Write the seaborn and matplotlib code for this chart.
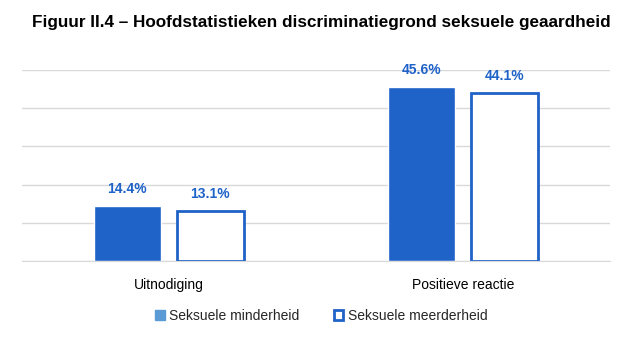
import pandas as pd
import numpy as np
import matplotlib.pyplot as plt
import seaborn as sns
from matplotlib.patches import Patch

categories = ['Uitnodiging', 'Positieve reactie']
groups = ['Seksuele minderheid', 'Seksuele meerderheid']
minderheid = [14.4, 45.6]
meerderheid = [13.1, 44.1]

blue = '#1F62C8'
light = '#5B9BD5'

df = pd.DataFrame({
    'cat': categories * 2,
    'groep': [groups[0]] * 2 + [groups[1]] * 2,
    'pct': minderheid + meerderheid,
})

sns.set_style('white')
plt.rcParams['font.family'] = ['Liberation Sans', 'DejaVu Sans']

fig = plt.figure(figsize=(6.42, 3.51), dpi=100)
ax = fig.add_axes([0.034, 0.2564, 0.916, 0.5442])

sns.barplot(data=df, x='cat', y='pct', hue='groep', order=categories, hue_order=groups,
            palette=[blue, blue], saturation=1, width=0.565, gap=0.2, legend=False, ax=ax)

# second group: outline only
for cont, vals in zip(ax.containers, [minderheid, meerderheid]):
    for i, bar in enumerate(cont):
        if cont is ax.containers[1]:
            bar.set_facecolor('white')
            bar.set_edgecolor(blue)
            bar.set_linewidth(2)
        ax.annotate(f'{vals[i]:.1f}%', (bar.get_x() + bar.get_width() / 2, bar.get_height()),
                    xytext=(0, 7), textcoords='offset points', ha='center', va='bottom',
                    fontsize=10, fontweight='bold', color=blue)

ax.set_ylim(0, 50)
ax.set_xlim(-0.5, 1.5)
ax.set_yticks(np.arange(0, 51, 10))
ax.set_yticklabels([])
ax.tick_params(axis='y', length=0)
ax.tick_params(axis='x', length=0, labelsize=10, pad=12, colors='black')
ax.grid(axis='y', color='#D9D9D9', linewidth=1)
ax.set_axisbelow(True)
for s in ['top', 'right', 'left']:
    ax.spines[s].set_visible(False)
ax.spines['bottom'].set_color('#D9D9D9')
ax.set_xlabel('')
ax.set_ylabel('')

handles = [Patch(facecolor=light, edgecolor=light),
           Patch(facecolor='white', edgecolor=blue, linewidth=2)]
fig.legend(handles, groups, loc='center', bbox_to_anchor=(0.5, 0.1), ncol=2, frameon=False,
           fontsize=10, handlelength=0.7, handleheight=0.7, handletextpad=0.3, columnspacing=2.5)

fig.text(0.5, 0.935, 'Figuur II.4 – Hoofdstatistieken discriminatiegrond seksuele geaardheid',
         ha='center', va='center', fontsize=12.3, fontweight='bold', color='black')

fig.savefig('out.png', dpi=100)
